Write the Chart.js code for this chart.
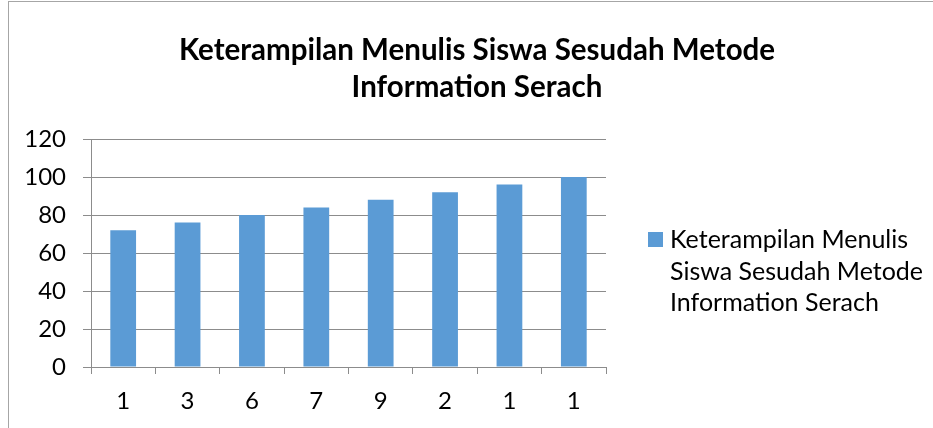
<!DOCTYPE html>
<html>
<head>
<meta charset="utf-8">
<script src="https://cdn.jsdelivr.net/npm/chart.js@4.4.1/dist/chart.umd.min.js"></script>
<style>
  html, body { margin: 0; padding: 0; background: #fff; }
  #wrap { position: relative; width: 933px; height: 428px; }
  #wrap::before {
    content: ""; position: absolute; left: 8px; top: 1px; right: 0; bottom: 0;
    border-left: 1px solid #a6a6a6; border-top: 1px solid #a6a6a6;
  }
</style>
</head>
<body>
<div id="wrap"><canvas id="chart" width="933" height="428"></canvas></div>
<script>
// chart data
const titleLines = ['Keterampilan Menulis Siswa Sesudah Metode', 'Information Serach'];
const seriesName = 'Keterampilan Menulis Siswa Sesudah Metode Information Serach';
const categories = ['1', '3', '6', '7', '9', '2', '1', '1'];
const scores = [72, 76, 80, 84, 88, 92, 96, 100];
const yTicks = [0, 20, 40, 60, 80, 100, 120];

const barColor = '#5b9bd5';
const gridColor = '#8c8c8c';
const fontFamily = 'Lato, "Open Sans", sans-serif';

// split text into lines that fit maxWidth
const wrapText = function(ctx, text, maxWidth) {
  let words = text.split(' ');
  let lines = [];
  let line = '';
  for (let n = 0; n < words.length; n++) {
    let testLine = line ? line + ' ' + words[n] : words[n];
    if (ctx.measureText(testLine).width > maxWidth && line) {
      lines.push(line);
      line = words[n];
    } else {
      line = testLine;
    }
  }
  if (line) lines.push(line);
  return lines;
};

// title + wrapped legend drawn by hand, built-in ones can't wrap / center like excel
const titleAndLegend = {
  id: 'titleAndLegend',
  afterDraw(chart) {
    const ctx = chart.ctx;
    ctx.save();
    ctx.fillStyle = '#000';
    ctx.textBaseline = 'middle';

    // title
    ctx.font = 'bold 29.5px ' + fontFamily;
    ctx.textAlign = 'center';
    titleLines.forEach((t, i) => ctx.fillText(t, 477, 50 + i * 37));

    // legend
    const ds = chart.data.datasets[0];
    ctx.fillStyle = ds.backgroundColor;
    ctx.fillRect(648, 232, 15, 15);
    ctx.fillStyle = '#000';
    ctx.font = '25px ' + fontFamily;
    ctx.textAlign = 'left';
    const lines = wrapText(ctx, ds.label, 262);
    lines.forEach((l, i) => ctx.fillText(l, 670, 240 + i * 31.5));
    ctx.restore();
  }
};

new Chart(document.getElementById('chart'), {
  type: 'bar',
  data: {
    labels: categories,
    datasets: [{
      label: seriesName,
      data: scores,
      backgroundColor: barColor,
      barPercentage: 0.4,
      categoryPercentage: 1
    }]
  },
  plugins: [titleAndLegend],
  options: {
    responsive: false,
    animation: false,
    layout: {
      padding: { top: 139, left: 8, right: 327, bottom: 11 }
    },
    scales: {
      x: {
        grid: {
          display: true,
          offset: true,
          drawOnChartArea: false,
          drawTicks: true,
          tickLength: 7,
          color: gridColor
        },
        border: { color: gridColor },
        ticks: {
          color: '#000',
          padding: 13,
          font: { family: fontFamily, size: 24 }
        },
        afterFit(scale) { scale.height = 50; }
      },
      y: {
        min: 0,
        max: 120,
        afterBuildTicks(scale) { scale.ticks = yTicks.map(v => ({ value: v })); },
        grid: {
          color: gridColor,
          tickLength: 8
        },
        border: { color: gridColor },
        ticks: {
          color: '#000',
          padding: 17,
          font: { family: fontFamily, size: 24 }
        },
        afterFit(scale) { scale.width = 83; }
      }
    },
    plugins: {
      title: { display: false },
      legend: { display: false },
      tooltip: { enabled: false }
    }
  }
});
</script>
</body>
</html>
